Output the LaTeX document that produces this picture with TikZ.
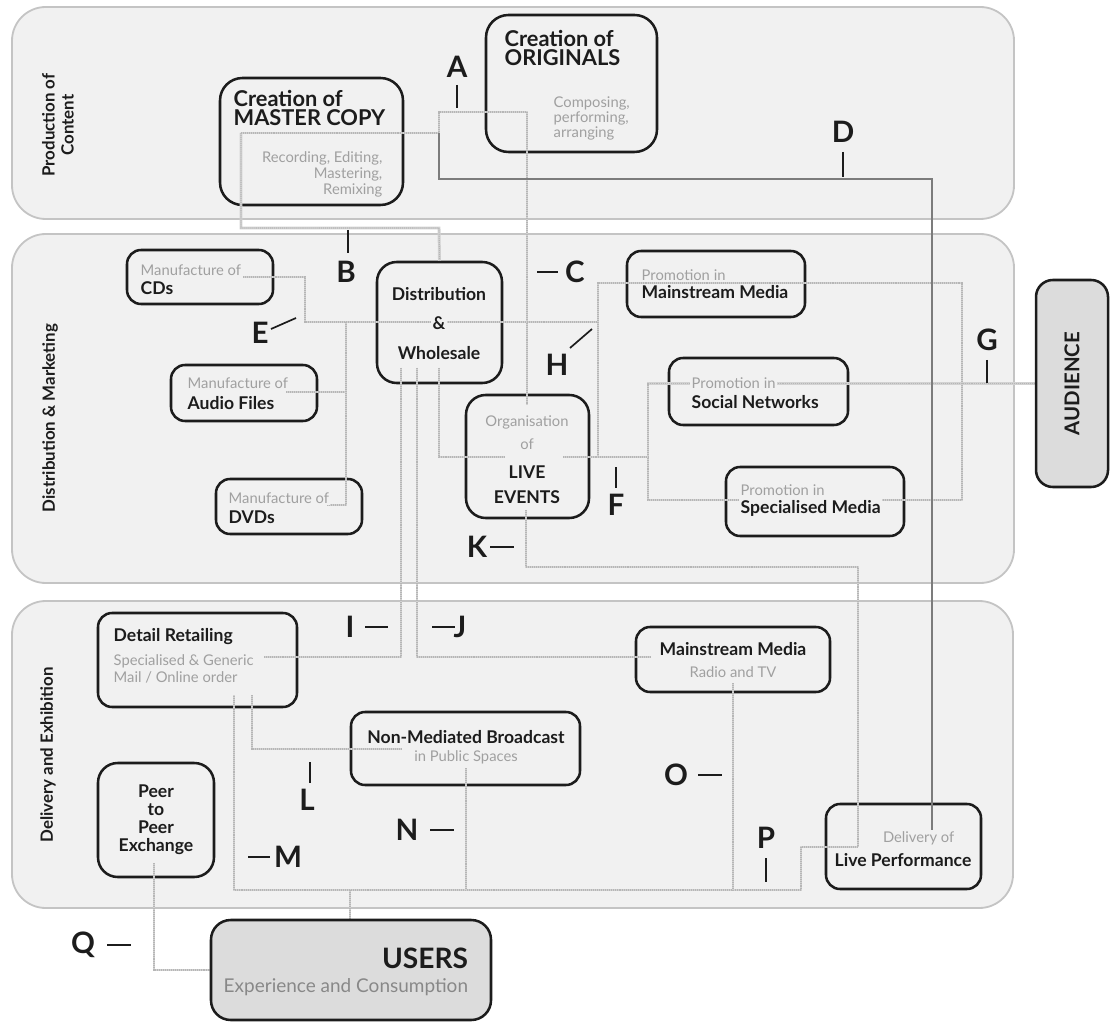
\documentclass[tikz,border=0pt]{standalone}
\usepackage{fontspec}
\setmainfont{Lato}
\usetikzlibrary{positioning,fit}

\definecolor{bandfill}{HTML}{F1F1F1}
\definecolor{bandline}{HTML}{C4C4C4}
\definecolor{linkc}{HTML}{D2D2D2}
\definecolor{linkdot}{HTML}{B6B6B6}
\definecolor{darkln}{HTML}{7C7C7C}
\definecolor{graytxt}{HTML}{A0A0A0}
\definecolor{greyfill}{HTML}{DCDCDC}
\definecolor{ink}{HTML}{1C1C1C}

\begin{document}
\begin{tikzpicture}[
x=0.025cm, y=-0.025cm,
band/.style={draw=bandline, fill=bandfill, line width=1.3pt, rounded corners=24pt, inner sep=0pt},
box/.style={draw=ink, line width=1.8pt, rounded corners=10pt, inner sep=0pt},
bigbox/.style={box, rounded corners=16pt},
greybox/.style={box, fill=greyfill, rounded corners=12pt},
link/.style={draw=linkc, line width=2.1pt, postaction={draw=linkdot, line width=0.8pt, dash pattern=on 0.7pt off 0.7pt}},
dark/.style={draw=darkln, line width=1.6pt},
tick/.style={draw=ink, line width=1.2pt},
letter/.style={font=\fontsize{21}{21}\selectfont\bfseries, text=ink, inner sep=0pt},
btxt/.style={font=\fontsize{12.5}{14}\selectfont\bfseries, text=ink, fill=bandfill, inner sep=1pt},
gtxt/.style={font=\fontsize{10.5}{12}\selectfont, text=graytxt, fill=bandfill, inner sep=1pt},
title/.style={font=\fontsize{15.5}{17}\selectfont\bfseries, text=ink, fill=bandfill, inner sep=1pt},
section/.style={font=\fontsize{12}{13.5}\selectfont\bfseries, text=ink, rotate=90, align=center}
]
\useasboundingbox (0,0) rectangle (1110,1023);

% bands
\node[band, fit={(12,7) (1014,219)}] (prod) {};
\node[band, fit={(12,234) (1014,583)}] (distr) {};
\node[band, fit={(12,601) (1013,908)}] (deliv) {};
\node[section] (secProd) at (58,125) {Production of\\Content};
\node[section] (secDistr) at (50,418) {Distribution \& Marketing};
\node[section] (secDeliv) at (48,755) {Delivery and Exhibition};

% connector ends inside the boxes
\coordinate (mcOut) at (241,133);
\coordinate (mcJoin) at (439,133);
\coordinate (liveIn) at (527,405);
\coordinate (lpIn) at (932,831);
\coordinate (cdsOut) at (243,277);
\coordinate (afOut) at (286,392);
\coordinate (dvOut) at (327,505);
\coordinate (wsIn1) at (401,368);
\coordinate (wsIn2) at (417,368);
\coordinate (wsIn3) at (439,368);
\coordinate (liveW) at (505,457);
\coordinate (liveE) at (563,457);
\coordinate (liveOut) at (526,510);
\coordinate (lpJoin) at (858,847);
\coordinate (drOut) at (264,657);
\coordinate (drM) at (234,695);
\coordinate (drL) at (252,695);
\coordinate (mmIn) at (650,657);
\coordinate (mmOut) at (733,683);
\coordinate (nmbIn) at (402,749);
\coordinate (nmbOut) at (466,768);
\coordinate (peerOut) at (154,863);
\coordinate (uIn) at (350,890);

% boxes
\node[bigbox, fit={(220,78) (403,205)}] (mc) {};
\node[bigbox, fit={(486,15) (657,152)}] (orig) {};
\node[box, fit={(127,250) (273,304)}] (cds) {};
\node[box, fit={(171,365) (317,421)}] (af) {};
\node[box, fit={(216,479) (362,534)}] (dv) {};
\node[box, rounded corners=14pt, fit={(377,262) (502,383)}] (ws) {};
\node[box, rounded corners=14pt, fit={(466,395) (589,518)}] (live) {};
\node[box, fit={(627,251) (805,317)}] (pmm) {};
\node[box, fit={(669,358) (848,425)}] (psn) {};
\node[box, fit={(726,467) (904,536)}] (psm) {};
\node[box, fit={(98,613) (297,707)}] (dr) {};
\node[box, fit={(636,627) (830,692)}] (mm) {};
\node[box, fit={(351,712) (580,785)}] (nmb) {};
\node[box, rounded corners=14pt, fit={(98,763) (214,877)}] (peer) {};
\node[box, fit={(826,804) (981,889)}] (lp) {};

% light links
\draw[link] (mcOut) |- (439,228) -- (ws.north);
\draw[link] (mcOut) -- (mcJoin) |- (527,112) -- (liveIn);
\draw[link] (cdsOut) -| (305,322) -- (598,322);
\draw[link] (afOut) -- (346,392);
\draw[link] (346,322) |- (dvOut);
\draw[link] (598,457) |- (962,283) |- (648,500) |- (1036,383.5);
\draw[link] (wsIn3) |- (liveW);
\draw[link] (liveE) -- (648,457);
\draw[link] (wsIn1) |- (drOut);
\draw[link] (wsIn2) |- (mmIn);
\draw[link] (liveOut) |- (858,567) -- (lpJoin);
\draw[link] (lpJoin) -| (801,890) -- (234,890) -- (drM);
\draw[link] (drL) |- (nmbIn);
\draw[link] (nmbOut) -- (466,890);
\draw[link] (mmOut) -- (733,890);
\draw[link] (uIn) -- (350,920);
\draw[link] (peerOut) |- (211,970);
\draw[dark] (mcJoin) |- (932,179) -- (lpIn);

% filled boxes on top
\node[greybox, fit={(1036,280) (1108,487)}] (aud) {};
\node[greybox, rounded corners=14pt, fit={(211,920) (491,1020)}] (users) {};

% texts
\node[title, anchor=west] (mcT1) at (232,98) {Creation of};
\node[title, anchor=west] (mcT2) at (232,118) {MASTER COPY};
\node[gtxt, anchor=east] (mcG1) at (384,158) {Recording, Editing,};
\node[gtxt, anchor=east] (mcG2) at (384,174) {Mastering,};
\node[gtxt, anchor=east] (mcG3) at (384,190) {Remixing};
\node[title, anchor=west] (orT1) at (503,38) {Creation of};
\node[title, anchor=west] (orT2) at (503,58) {ORIGINALS};
\node[gtxt, anchor=west] (orG1) at (552,103) {Composing,};
\node[gtxt, anchor=west] (orG2) at (552,118) {performing,};
\node[gtxt, anchor=west] (orG3) at (552,133) {arranging};

\node[gtxt, anchor=west] (cdsG) at (139,270) {Manufacture of};
\node[btxt, anchor=west] (cdsT) at (139,288) {CDs};
\node[gtxt, anchor=west] (afG) at (186,383) {Manufacture of};
\node[btxt, anchor=west] (afT) at (186,403) {Audio Files};
\node[gtxt, anchor=west] (dvG) at (227,498) {Manufacture of};
\node[btxt, anchor=west] (dvT) at (227,517) {DVDs};
\node[btxt] (wsT1) at (439,294) {Distribution};
\node[btxt] (wsT2) at (439,323) {\&};
\node[btxt] (wsT3) at (439,353) {Wholesale};
\node[gtxt] (liveG1) at (527,422) {Organisation};
\node[gtxt] (liveG2) at (527,444) {of};
\node[btxt] (liveT1) at (527,472) {LIVE};
\node[btxt] (liveT2) at (527,497) {EVENTS};
\node[gtxt, anchor=west] (pmmG) at (640,275) {Promotion in};
\node[btxt, anchor=west] (pmmT) at (640,292) {Mainstream Media};
\node[gtxt, anchor=west] (psnG) at (690,383) {Promotion in};
\node[btxt, anchor=west] (psnT) at (690,402) {Social Networks};
\node[gtxt, anchor=west] (psmG) at (739,490) {Promotion in};
\node[btxt, anchor=west] (psmT) at (739,508) {Specialised Media};
\node[font=\fontsize{14.5}{15}\selectfont\bfseries, text=ink, rotate=90] (audT) at (aud.center) {AUDIENCE};

\node[btxt, anchor=west] (drT) at (112,637) {Detail Retailing};
\node[gtxt, anchor=west] (drG1) at (112,661) {Specialised \& Generic};
\node[gtxt, anchor=west] (drG2) at (112,677) {Mail / Online order};
\node[btxt] (mmT) at (733,649) {Mainstream Media};
\node[gtxt] (mmG) at (733,672) {Radio and TV};
\node[btxt] (nmbT) at (466,737) {Non-Mediated Broadcast};
\node[gtxt] (nmbG) at (466,757) {in Public Spaces};
\node[btxt, align=center, font=\fontsize{12.5}{12.8}\selectfont\bfseries] (peerT) at (156,820) {Peer\\to\\Peer\\Exchange};
\node[gtxt, anchor=east] (lpG) at (956,838) {Delivery of};
\node[btxt] (lpT) at (903,860) {Live Performance};
\node[font=\fontsize{20}{22}\selectfont\bfseries, text=ink, anchor=east] (usT) at (473,958) {USERS};
\node[font=\fontsize{13.5}{15}\selectfont, text=graytxt!85!black, anchor=east] (usG) at (473,987) {Experience and Consumption};

% letters
\node[letter] (lA) at (457,67) {A};
\node[letter] (lB) at (346,272) {B};
\node[letter] (lC) at (575,272) {C};
\node[letter] (lD) at (843,132) {D};
\node[letter] (lE) at (260,333) {E};
\node[letter] (lF) at (616,505) {F};
\node[letter] (lG) at (987,340) {G};
\node[letter] (lH) at (557,365) {H};
\node[letter] (lI) at (350,627) {I};
\node[letter] (lJ) at (460,627) {J};
\node[letter] (lK) at (477,547) {K};
\node[letter] (lL) at (307,800) {L};
\node[letter] (lM) at (288,857) {M};
\node[letter] (lN) at (407,830) {N};
\node[letter] (lO) at (676,775) {O};
\node[letter] (lP) at (766,838) {P};
\node[letter] (lQ) at (83,945) {Q};

\draw[tick] (lA.center) ++(0,18) -- ++(0,23);
\draw[tick] (lB.center) ++(2,-42) -- ++(0,23);
\draw[tick] (lC.center) ++(-38,0) -- ++(21,0);
\draw[tick] (lD.center) ++(0,20) -- ++(0,25);
\draw[tick] (lE.center) ++(11,-4) -- ++(25,-11);
\draw[tick] (lF.center) ++(0,-38) -- ++(0,21);
\draw[tick] (lG.center) ++(0,20) -- ++(0,23);
\draw[tick] (lH.center) ++(13,-17) -- ++(22,-19);
\draw[tick] (lI.center) ++(15,0) -- ++(23,0);
\draw[tick] (lJ.center) ++(-28,0) -- ++(23,0);
\draw[tick] (lK.center) ++(13,0) -- ++(24,0);
\draw[tick] (lL.center) ++(3,-38) -- ++(0,21);
\draw[tick] (lM.center) ++(-40,0) -- ++(22,0);
\draw[tick] (lN.center) ++(23,0) -- ++(24,0);
\draw[tick] (lO.center) ++(22,0) -- ++(24,0);
\draw[tick] (lP.center) ++(0,20) -- ++(0,24);
\draw[tick] (lQ.center) ++(24,0) -- ++(24,0);
\end{tikzpicture}
\end{document}
